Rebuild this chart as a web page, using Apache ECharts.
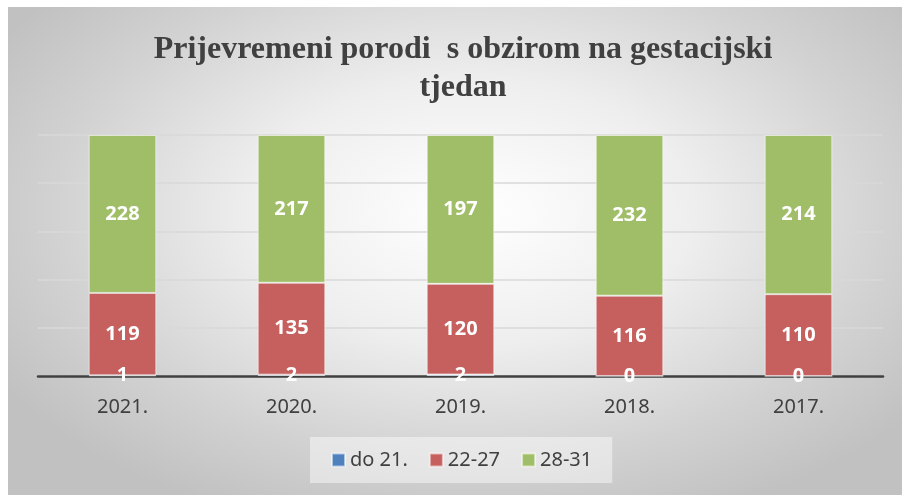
<!DOCTYPE html>
<html>
<head>
<meta charset="utf-8">
<script src="https://cdn.jsdelivr.net/npm/echarts@6/dist/echarts.min.js"></script>
<style>
html,body{margin:0;padding:0;background:#fff;}
#bg{position:absolute;left:8px;top:7px;width:894px;height:488px;
background:radial-gradient(ellipse 62% 68% at 52% 42%, #ffffff 0%, #eeeeee 40%, #d2d2d2 75%, #c1c1c1 100%);}
#chart{position:absolute;left:0;top:0;width:902px;height:495px;}
</style>
</head>
<body>
<div id="bg"></div>
<div id="chart"></div>
<script>
const categories = ['2021.', '2020.', '2019.', '2018.', '2017.'];
const seriesNames = ['do 21.', '22-27', '28-31'];
const do21 = [1, 2, 2, 0, 0];
const w22_27 = [119, 135, 120, 116, 110];
const w28_31 = [228, 217, 197, 232, 214];
const colors = ['#4F81BD', '#C5605E', '#A0BE68'];

const raw = [do21, w22_27, w28_31];
const totals = categories.map((c, i) => raw.reduce((s, arr) => s + arr[i], 0));

const chart = echarts.init(document.getElementById('chart'), null, {renderer: 'canvas'});
const series = raw.map((arr, k) => ({
  name: seriesNames[k],
  type: 'bar',
  stack: 'total',
  barWidth: '40%',
  itemStyle: {color: colors[k], borderColor: 'rgba(255,255,255,0.55)', borderWidth: 1},
  label: {
    show: true,
    position: 'inside',
    color: '#ffffff',
    fontFamily: 'Noto Sans',
    fontWeight: 'bold',
    fontSize: 20,
    formatter: p => String(arr[p.dataIndex])
  },
  data: arr.map((v, i) => v / totals[i] * 100)
}));

chart.setOption({
  backgroundColor: 'transparent',
  animation: false,
  title: {
    text: 'Prijevremeni porodi  s obzirom na gestacijski\ntjedan',
    left: 458,
    top: 26,
    textAlign: 'center',
    textStyle: {
      fontFamily: 'Liberation Serif',
      fontWeight: 'bold',
      fontSize: 32,
      lineHeight: 38,
      color: '#404040'
    }
  },
  legend: {
    data: seriesNames,
    top: 437,
    left: 310,
    itemWidth: 13,
    itemHeight: 13,
    itemGap: 21,
    padding: [13, 20, 13, 21],
    backgroundColor: 'rgba(255,255,255,0.45)',
    icon: 'rect',
    textStyle: {fontFamily: 'Noto Sans', fontSize: 20, color: '#404040'}
  },
  grid: {left: 38, right: 19, top: 135, bottom: 119, containLabel: false},
  xAxis: {
    type: 'category',
    data: categories,
    axisLine: {lineStyle: {color: '#404040', width: 2.5}},
    axisTick: {show: false},
    axisLabel: {fontFamily: 'Noto Sans', fontSize: 20, color: '#404040', margin: 21}
  },
  yAxis: {
    type: 'value',
    min: 0,
    max: 100,
    interval: 20,
    axisLabel: {show: false},
    axisLine: {show: false},
    axisTick: {show: false},
    splitLine: {lineStyle: {color: '#d9d9d9', width: 1.5}}
  },
  series: series
});
</script>
</body>
</html>
